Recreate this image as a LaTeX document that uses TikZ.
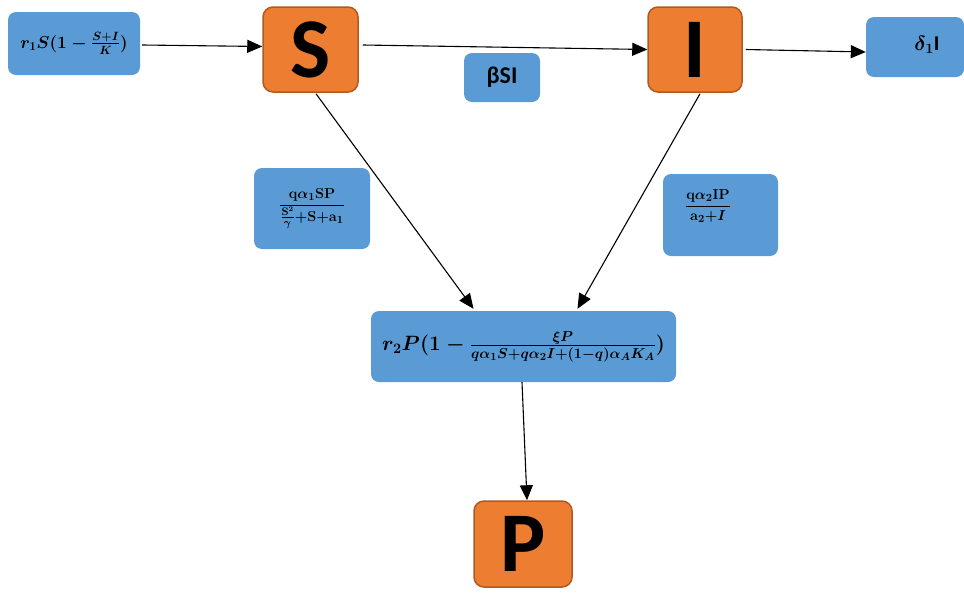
\documentclass[tikz,border=0pt]{standalone}
\usepackage{amsmath}
\usepackage{fontspec}
\setmainfont{Carlito}
\usetikzlibrary{arrows.meta}
\definecolor{boxblue}{HTML}{5B9BD5}
\definecolor{boxorange}{HTML}{ED7D31}
\definecolor{orangeedge}{HTML}{AE5A21}
\tikzset{
  bluebox/.style={fill=boxblue, draw=none, rounded corners=8pt, inner sep=0pt},
  orangebox/.style={fill=boxorange, draw=orangeedge, line width=1.5pt, rounded corners=10pt, inner sep=0pt, font=\fontsize{85}{85}\selectfont\bfseries},
  flow/.style={-{Triangle[length=15pt,width=13pt]}, line width=1.1pt},
  txtonly/.style={inner sep=0pt}
}
\begin{document}
\begin{tikzpicture}[x=1pt,y=-1pt]
\useasboundingbox (0,0) rectangle (964,592);
\node[bluebox, minimum width=132pt, minimum height=63pt, font=\boldmath\fontsize{18}{22}\selectfont] (r1) at (74,43.5) {$r_1S(1-\tfrac{S+I}{K})$};
\node[bluebox, minimum width=76pt, minimum height=49pt, font=\fontsize{24}{26}\selectfont\bfseries] (bsi) at (502,77.5) {βSI};
\node[bluebox, minimum width=98pt, minimum height=60pt] (d1) at (915,47) {};
\node[txtonly, font=\boldmath\fontsize{21}{23}\selectfont\bfseries] (d1t) at (927,45) {$\delta_1$I};
\node[bluebox, minimum width=116pt, minimum height=81pt, font=\boldmath\fontsize{15}{17}\selectfont] (q1) at (312,208.5) {$\dfrac{\mathbf{q}\alpha_1\mathbf{SP}}{\frac{\mathbf{S}^2}{\gamma}{+}\mathbf{S}{+}\mathbf{a}_1}$};
\node[bluebox, minimum width=115pt, minimum height=82pt] (q2) at (720.5,215) {};
\node[txtonly, font=\boldmath\fontsize{15}{17}\selectfont] (q2t) at (708,206) {$\dfrac{\mathbf{q}\alpha_2\mathbf{IP}}{\mathbf{a}_2{+}I}$};
\node[bluebox, minimum width=305pt, minimum height=71pt, font=\boldmath\fontsize{21}{24}\selectfont] (r2) at (523.5,346.5) {$r_2P(1-\tfrac{\xi P}{q\alpha_1S+q\alpha_2I+(1-q)\alpha_AK_A})$};
\node[orangebox, minimum width=95pt, minimum height=85pt] (S) at (310.5,49.5) {S};
\node[orangebox, minimum width=94pt, minimum height=85pt] (I) at (695,49.5) {I};
\node[orangebox, minimum width=98pt, minimum height=86pt] (P) at (523,544) {P};
\draw[flow] ([xshift=2pt,yshift=-1.5pt]r1.east) -- ([yshift=3pt]S.west);
\draw[flow] ([xshift=4pt,yshift=4.5pt]S.east) -- (I.west);
\draw[flow] ([xshift=3pt]I.east) -- ([yshift=-5pt]d1.west);
\draw[flow] ([xshift=5.5pt,yshift=-1pt]S.south) -- ([xshift=-50pt,yshift=2pt]r2.north);
\draw[flow] ([xshift=5pt,yshift=-1pt]I.south) -- ([xshift=54pt,yshift=2pt]r2.north);
\draw[flow] ([xshift=-1.5pt]r2.south) -- ([xshift=4pt]P.north);
\end{tikzpicture}
\end{document}
